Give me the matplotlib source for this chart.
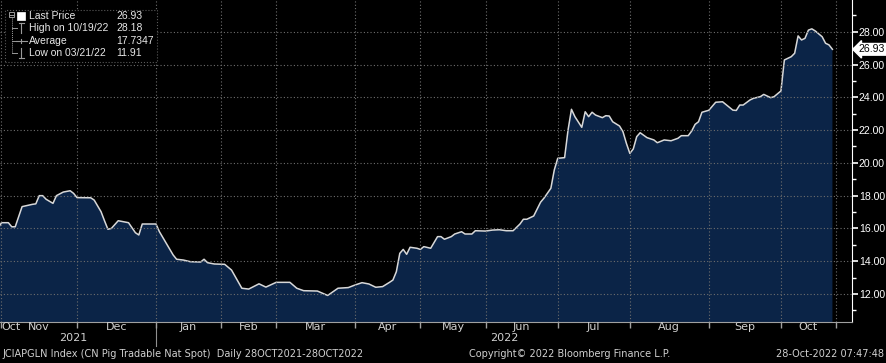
import numpy as np
import matplotlib.pyplot as plt
from matplotlib import transforms
from matplotlib.patches import Rectangle
from matplotlib.lines import Line2D
from matplotlib.ticker import FormatStrFormatter

# trading calendar (China holidays skipped by the series)
start = '2021-10-28'
holidays = ['2022-01-03', '2022-01-31', '2022-02-01', '2022-02-02', '2022-02-03',
            '2022-02-04', '2022-04-04', '2022-04-05', '2022-05-02', '2022-05-03',
            '2022-05-04', '2022-06-03', '2022-09-12', '2022-10-03', '2022-10-04',
            '2022-10-05', '2022-10-06', '2022-10-07']

# trading-day number from start, and price
day_idx = [0, 1, 2, 4, 5, 6, 8, 11, 12, 13, 14, 15, 17, 18, 20, 22, 23, 24, 28, 29,
           31, 32, 33, 34, 36, 39, 41, 42, 43, 47, 48, 52, 53, 55, 57, 60, 61, 62, 64, 67,
           69, 72, 74, 77, 79, 82, 86, 88, 90, 94, 96, 97, 100, 103, 105, 107, 109, 111, 113, 115,
           116, 117, 118, 119, 120, 121, 123, 124, 125, 127, 129, 130, 131, 133, 134, 136, 137, 139, 140, 143,
           145, 147, 149, 151, 153, 154, 155, 157, 159, 160, 162, 163, 164, 166, 167, 168, 169, 171, 172, 173,
           174, 175, 177, 178, 179, 180, 182, 183, 184, 185, 186, 187, 188, 190, 192, 193, 195, 197, 199, 200,
           202, 203, 204, 205, 206, 208, 210, 212, 215, 216, 217, 218, 220, 221, 223, 224, 226, 227, 229, 230,
           232, 233, 234, 235, 236, 237, 238, 239, 241, 242, 243, 244]
price = [16.00, 16.00, 16.35, 16.35, 16.10, 16.10, 17.33, 17.47, 17.50, 18.00, 18.00, 17.78, 17.53, 18.00, 18.22, 18.30, 18.14, 17.88, 17.87, 17.73,
         17.02, 16.47, 15.95, 16.00, 16.47, 16.35, 15.74, 15.60, 16.27, 16.27, 15.80, 14.38, 14.12, 14.07, 13.97, 13.95, 14.12, 13.91, 13.83, 13.81,
         13.46, 12.35, 12.30, 12.62, 12.42, 12.71, 12.71, 12.35, 12.20, 12.18, 12.00, 11.91, 12.35, 12.39, 12.55, 12.69, 12.61, 12.41, 12.45, 12.71,
         12.85, 13.36, 14.48, 14.72, 14.42, 14.85, 14.79, 14.72, 14.89, 14.79, 15.50, 15.50, 15.34, 15.50, 15.66, 15.80, 15.66, 15.66, 15.86, 15.84,
         15.90, 15.92, 15.86, 15.86, 16.27, 16.56, 16.56, 16.76, 17.60, 17.85, 18.45, 19.57, 20.28, 20.32, 22.00, 23.27, 22.82, 22.17, 23.12, 22.82,
         23.09, 22.92, 22.76, 22.88, 22.86, 22.51, 22.25, 21.90, 21.19, 20.58, 20.85, 21.60, 21.84, 21.54, 21.40, 21.23, 21.40, 21.35, 21.50, 21.66,
         21.66, 21.94, 22.35, 22.51, 23.09, 23.21, 23.70, 23.73, 23.22, 23.20, 23.53, 23.53, 23.84, 23.94, 24.04, 24.18, 23.98, 24.04, 24.39, 26.28,
         26.48, 26.69, 27.75, 27.50, 27.60, 28.10, 28.18, 28.05, 27.70, 27.30, 27.20, 26.93]
avg_price = 17.7347

month_starts = ['2021-10-01', '2021-11-01', '2021-12-01', '2022-01-01', '2022-02-01', '2022-03-01',
                '2022-04-01', '2022-05-01', '2022-06-01', '2022-07-01', '2022-08-01', '2022-09-01',
                '2022-10-01', '2022-11-01']
month_names = ['Oct', 'Nov', 'Dec', 'Jan', 'Feb', 'Mar', 'Apr', 'May', 'Jun', 'Jul', 'Aug', 'Sep', 'Oct']

W, H = 886, 363
narrow = ['Liberation Sans Narrow', 'DejaVu Sans']
sans = ['Liberation Sans', 'DejaVu Sans']


def fx(x):
    return x / W


def fy(y):
    return 1 - y / H


bounds = np.busday_count(start, month_starts, holidays=holidays)
xmin, xmax = 1.57, 249.7

fig = plt.figure(figsize=(W / 100, H / 100), dpi=100, facecolor='black')
ax = fig.add_axes([0, 41 / H, 852 / W, 322 / H])
ax.set_facecolor('black')

ax.fill_between(day_idx, price, 0, color='#0b2447', lw=0, zorder=1)
ax.plot(day_idx, price, color='#d8d8d8', lw=1.1, zorder=2)
ax.set_xlim(xmin, xmax)
ax.set_ylim(10.29, 29.94)

for s in ['top', 'left']:
    ax.spines[s].set_visible(False)
ax.spines['right'].set_color('white')
ax.spines['bottom'].set_color('#a0a0a0')

ax.yaxis.tick_right()
ax.set_yticks(np.arange(12, 29, 2))
ax.set_yticks(np.arange(11, 30, 2), minor=True)
ax.yaxis.set_major_formatter(FormatStrFormatter('%.2f'))
ax.tick_params(axis='y', which='major', colors='white', length=4, width=1.2, labelsize=7.6, pad=1)
ax.tick_params(axis='y', which='minor', colors='white', length=3, width=1)
for lab in ax.get_yticklabels():
    lab.set_family(sans)

inside = [b for b in bounds[1:] if xmin <= b <= xmax]
ax.set_xticks(inside)
ax.set_xticklabels([])
ax.tick_params(axis='x', colors='#a0a0a0', length=4, width=1)
ax.set_axisbelow(False)
ax.grid(True, which='major', color='#6e6e6e', linestyle=(0, (1, 2)), lw=0.8)

# month labels in the middle of each month
blend = transforms.blended_transform_factory(ax.transData, ax.transAxes)
for name, b0, b1 in zip(month_names, bounds[:-1], bounds[1:]):
    lo, hi = max(b0, xmin), min(b1, xmax)
    if hi - lo < 6:
        ax.text(xmin + 0.3, -0.016, name, transform=blend, ha='left', va='center',
                color='#d0d0d0', fontsize=8, family=narrow)
    else:
        ax.text((lo + hi) / 2, -0.016, name, transform=blend, ha='center', va='center',
                color='#d0d0d0', fontsize=8, family=narrow)

jan = bounds[3]
ax.plot([jan, jan], [-0.01, -0.075], transform=blend, clip_on=False, color='#909090', lw=0.8)
ax.text((xmin + jan) / 2 - 1.5, -0.05, '2021', transform=blend, ha='center', va='center',
        color='#d0d0d0', fontsize=8, family=narrow)
ax.text((jan + xmax) / 2, -0.05, '2022', transform=blend, ha='center', va='center',
        color='#d0d0d0', fontsize=8, family=narrow)

# last price tag on the right axis
yblend = transforms.blended_transform_factory(ax.transAxes, ax.transData)
ax.text(1.008, price[-1], f'{price[-1]:.2f}', transform=yblend, ha='left', va='center',
        color='black', fontsize=7.6, family=sans, clip_on=False,
        bbox=dict(boxstyle='larrow,pad=0.08', fc='white', ec='white'))

# legend panel
fig.add_artist(Rectangle((fx(5), fy(62)), 152 / W, 52 / H, transform=fig.transFigure,
                         fc='black', ec='#5a5a5a', ls=':', lw=0.8, zorder=5))
rows = [('Last Price', f'{price[-1]:.2f}', 16),
        ('High on 10/19/22', f'{max(price):.2f}', 28),
        ('Average', f'{avg_price:.4f}', 41),
        ('Low on 03/21/22', f'{min(price):.2f}', 53)]
for lab, val, y in rows:
    fig.text(fx(29), fy(y), lab, color='#e8e8e8', fontsize=7.5, va='center', family=sans, zorder=6)
    fig.text(fx(116), fy(y), val, color='#e8e8e8', fontsize=7.5, va='center', family=sans, zorder=6)


def seg(x0, y0, x1, y1, **kw):
    fig.add_artist(Line2D([fx(x0), fx(x1)], [fy(y0), fy(y1)], transform=fig.transFigure,
                          zorder=6, **kw))


grey = '#9a9a9a'
fig.add_artist(Rectangle((fx(9), fy(17)), 5 / W, 5 / H, transform=fig.transFigure,
                         fc='none', ec=grey, lw=0.7, zorder=6))
seg(10, 14.5, 13, 14.5, color=grey, lw=0.7)
fig.add_artist(Rectangle((fx(17), fy(20)), 8 / W, 8 / H, transform=fig.transFigure,
                         fc='white', ec='white', lw=0.5, zorder=6))
seg(11.5, 17, 11.5, 53, color=grey, lw=0.7, ls=(0, (1, 1)))
for y in [28, 41, 53]:
    seg(11.5, y, 17, y, color=grey, lw=0.7)
seg(21, 23, 21, 33, color=grey, lw=0.8)
seg(18.5, 23, 23.5, 23, color=grey, lw=0.8)
seg(16, 41, 27, 41, color=grey, lw=0.8)
seg(21, 39, 21, 43, color=grey, lw=0.8)
seg(21, 48, 21, 58, color=grey, lw=0.8)
seg(18.5, 58, 23.5, 58, color=grey, lw=0.8)

# footer
fig.text(fx(2), fy(354), 'JCIAPGLN Index (CN Pig Tradable Nat Spot)  Daily 28OCT2021-28OCT2022',
         color='#d0d0d0', fontsize=7, va='center', family=narrow)
fig.text(fx(469), fy(354), 'Copyright\u00a9 2022 Bloomberg Finance L.P.',
         color='#d0d0d0', fontsize=7, va='center', family=narrow)
fig.text(fx(884), fy(354), '28-Oct-2022 07:47:48', color='#d0d0d0', fontsize=7,
         va='center', ha='right', family=narrow)

fig.savefig('out.png', dpi=100, facecolor='black')
